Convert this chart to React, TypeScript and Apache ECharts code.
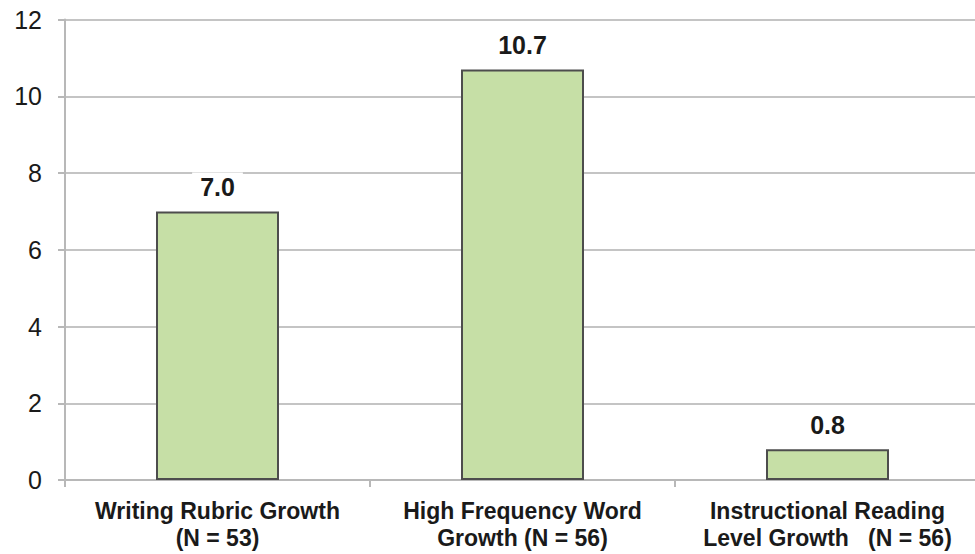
import React, { useEffect, useRef } from "react";
import * as echarts from "echarts";

const categories = [
  "Writing Rubric Growth\n(N = 53)",
  "High Frequency Word\nGrowth (N = 56)",
  "Instructional Reading\nLevel Growth   (N = 56)",
];
const values = [7.0, 10.7, 0.8];
const yTicks = { min: 0, max: 12, interval: 2 };

export default function App() {
  const ref = useRef<HTMLDivElement>(null);
  useEffect(() => {
    if (!ref.current) return;
    const chart = echarts.init(ref.current, null, { renderer: "svg" });
    const font = "'Liberation Sans', Arial, sans-serif";
    chart.setOption({
      animation: false,
      backgroundColor: "#ffffff",
      grid: { left: 65, right: 0, top: 19.5, bottom: 74, containLabel: false },
      xAxis: {
        type: "category",
        data: categories,
        axisLine: { show: true, lineStyle: { color: "#b8b8b8", width: 2 } },
        axisTick: { show: true, length: 7, lineStyle: { color: "#b8b8b8", width: 2 } },
        axisLabel: {
          margin: 17,
          color: "#1a1a1a",
          fontFamily: font,
          fontWeight: "bold",
          fontSize: 23,
          lineHeight: 27,
          interval: 0,
        },
      },
      yAxis: {
        type: "value",
        min: yTicks.min,
        max: yTicks.max,
        interval: yTicks.interval,
        axisLine: { show: true, lineStyle: { color: "#b8b8b8", width: 2 } },
        axisTick: { show: true, length: 7, lineStyle: { color: "#b8b8b8", width: 2 } },
        splitLine: { show: true, lineStyle: { color: "#c4c4c4", width: 2 } },
        axisLabel: {
          margin: 23,
          color: "#1a1a1a",
          fontFamily: font,
          fontSize: 25,
        },
      },
      series: [
        {
          type: "bar",
          data: values,
          barWidth: 123,
          itemStyle: { color: "#c6dfa6", borderColor: "#4d4d4d", borderWidth: 2 },
          label: {
            show: true,
            position: "top",
            distance: 10,
            formatter: (p: any) => Number(p.value).toFixed(1),
            color: "#1a1a1a",
            fontFamily: font,
            fontWeight: "bold",
            fontSize: 25,
            backgroundColor: "#ffffff",
            padding: [2, 8],
          },
        },
      ],
    });
    return () => chart.dispose();
  }, []);
  return (
    <div
      ref={ref}
      style={{ position: "fixed", left: 0, top: 0, width: 980, height: 554 }}
    />
  );
}
